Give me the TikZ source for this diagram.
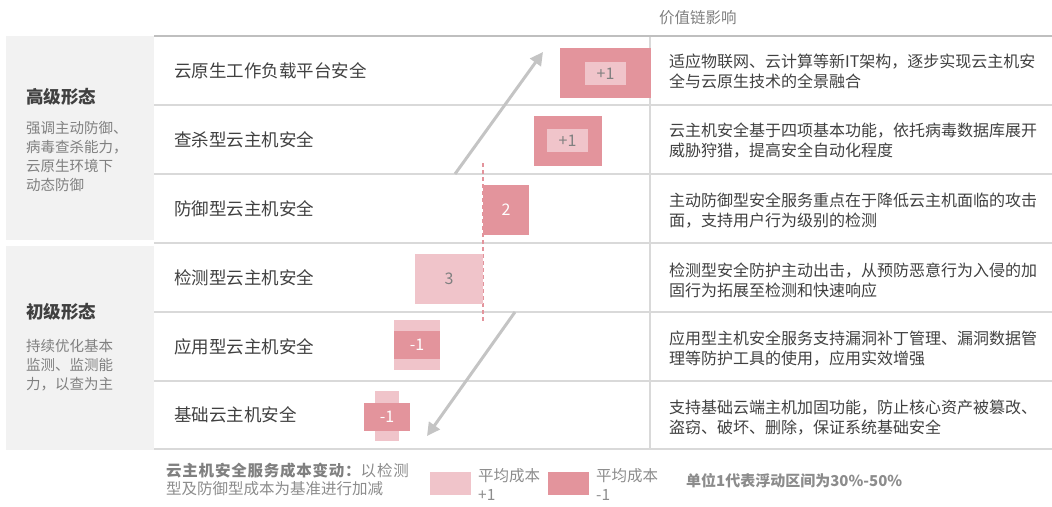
\documentclass[tikz,border=0pt]{standalone}
\usepackage{fontspec}
\setmainfont{Noto Sans CJK SC}
\newfontfamily\cjkls{Noto Sans CJK SC}[LetterSpace=5]
\usetikzlibrary{arrows.meta}
\definecolor{dpink}{HTML}{E3949C}
\definecolor{lpink}{HTML}{F0C4CA}
\definecolor{panel}{HTML}{F2F2F2}
\definecolor{rulec}{HTML}{D9D9D9}
\definecolor{rulet}{HTML}{BFBFBF}
\definecolor{txt}{HTML}{404040}
\definecolor{gtxt}{HTML}{808080}
\definecolor{ltxt}{HTML}{8C8C8C}
\definecolor{arrc}{HTML}{C4C4C4}
\tikzset{
  lbl/.style={anchor=west, inner sep=0pt, text=txt, font=\fontsize{17.5}{21}\selectfont},
  desc/.style={anchor=west, inner sep=0pt, align=left, text=txt, font=\fontsize{16}{20}\selectfont},
  phead/.style={anchor=west, inner sep=0pt, text=txt, font=\fontsize{17.5}{21}\selectfont\bfseries},
  pbody/.style={anchor=west, inner sep=0pt, align=left, text=gtxt, font=\fontsize{14.5}{19}\selectfont},
  darkbar/.style={fill=dpink, inner sep=0pt, text=white, font=\fontsize{16}{18}\selectfont},
  lightbar/.style={fill=lpink, inner sep=0pt, text=gtxt, font=\fontsize{16}{18}\selectfont},
  trend/.style={draw=arrc, line width=3pt, -{Triangle[length=13pt,width=13pt]}},
  rowline/.style={draw=rulec, line width=1.5pt},
  legtxt/.style={anchor=west, inner sep=0pt, align=left, text=ltxt, font=\fontsize{15.5}{19}\selectfont},
}
\begin{document}
\begin{tikzpicture}[x=1pt,y=-1pt]
\useasboundingbox (0,0) rectangle (1052,506);
% left panels
\fill[panel] (6,36) rectangle (154,240);
\fill[panel] (6,246) rectangle (154,450);
% table lines
\draw[rowline] (154,105) -- (1052,105);
\draw[rowline] (154,174) -- (1052,174);
\draw[rowline] (154,243) -- (1052,243);
\draw[rowline] (154,312) -- (1052,312);
\draw[rowline] (154,381) -- (1052,381);
\draw[rowline] (154,449) -- (1052,449);
\draw[draw=rulec, line width=1.2pt] (650,36) -- (650,449);
\draw[draw=rulet, line width=2pt] (154,36) -- (1052,36);
% header
\node[anchor=west, inner sep=0pt, text=gtxt, font=\fontsize{15.5}{18}\selectfont] (hdr) at (659,18) {价值链影响};
% panel texts
\node[phead] (h1) at (26,97) {高级形态};
\node[pbody] (p1) at (26,156) {强调主动防御、\\病毒查杀能力，\\云原生环境下\\动态防御};
\node[phead] (h2) at (26,312) {初级形态};
\node[pbody] (p2) at (26,365) {持续优化基本\\监测、监测能\\力，以查为主};
% row labels
\node[lbl] (l1) at (174,71) {云原生工作负载平台安全};
\node[lbl] (l2) at (174,140) {查杀型云主机安全};
\node[lbl] (l3) at (174,209) {防御型云主机安全};
\node[lbl] (l4) at (174,278) {检测型云主机安全};
\node[lbl] (l5) at (174,347) {应用型云主机安全};
\node[lbl] (l6) at (174,415) {基础云主机安全};
% descriptions
\node[desc] (d1) at (669,71) {适应物联网、云计算等新IT架构，逐步实现云主机安\\全与云原生技术的全景融合};
\node[desc] (d2) at (669,141) {云主机安全基于四项基本功能，依托病毒数据库展开\\威胁狩猎，提高安全自动化程度};
\node[desc] (d3) at (669,211) {主动防御型安全服务重点在于降低云主机面临的攻击\\面，支持用户行为级别的检测};
\node[desc] (d4) at (669,280) {检测型安全防护主动出击，从预防恶意行为入侵的加\\固行为拓展至检测和快速响应};
\node[desc] (d5) at (669,349) {应用型主机安全服务支持漏洞补丁管理、漏洞数据管\\理等防护工具的使用，应用实效增强};
\node[desc] (d6) at (669,418) {支持基础云端主机加固功能，防止核心资产被篡改、\\盗窃、破坏、删除，保证系统基础安全};
% dashed baseline
\coordinate (dtop) at (483,163);
\coordinate (dbot) at (483,322);
\draw[dpink, line width=1.2pt, dash pattern=on 4pt off 3pt] (dtop) -- (dbot);
% bars
\node[darkbar, minimum width=91pt, minimum height=50pt] (b1) at (605.5,73) {};
\node[lightbar, minimum width=41pt, minimum height=23pt] (b1i) at (605.5,73.5) {+1};
\node[darkbar, minimum width=68pt, minimum height=50pt] (b2) at (568,141) {};
\node[lightbar, minimum width=41pt, minimum height=23pt] (b2i) at (567.5,140.5) {+1};
\node[darkbar, minimum width=46pt, minimum height=50pt] (b3) at (506,210) {2};
\node[lightbar, minimum width=68pt, minimum height=50pt] (b4) at (449,279) {3};
\node[lightbar, minimum width=46pt, minimum height=50pt] (b5) at (417,345) {};
\node[darkbar, minimum width=46pt, minimum height=28pt] (b5i) at (417,345) {-1};
\node[lightbar, minimum width=24pt, minimum height=50pt] (b6) at (387,416) {};
\node[darkbar, minimum width=46pt, minimum height=28pt] (b6i) at (387,417) {-1};
% trend arrows
\coordinate (u0) at (455,174);
\coordinate (u1) at (543,52);
\coordinate (w0) at (515,312);
\coordinate (w1) at (427,436);
\draw[trend] (u0) -- (u1);
\draw[trend] (w0) -- (w1);
% legend
\node[anchor=west, inner sep=0pt, align=left, text=ltxt, font=\fontsize{15.5}{18}\selectfont] (lg) at (166,479.5)
  {{\cjkls\color{gtxt}\bfseries 云主机安全服务成本变动：}{\cjkls 以检测}\\型及防御型成本为基准进行加减};
\node[lightbar, minimum width=41pt, minimum height=23pt] (k1) at (450.5,483.5) {};
\node[legtxt] (k1t) at (478,484) {平均成本\\+1};
\node[darkbar, minimum width=41pt, minimum height=23pt] (k2) at (568.5,483.5) {};
\node[legtxt] (k2t) at (596,484) {平均成本\\-1};
\node[anchor=west, inner sep=0pt, text=ltxt, font=\fontsize{15}{18}\selectfont\bfseries] (unit) at (686,481) {单位1代表浮动区间为30\%-50\%};
\end{tikzpicture}
\end{document}
